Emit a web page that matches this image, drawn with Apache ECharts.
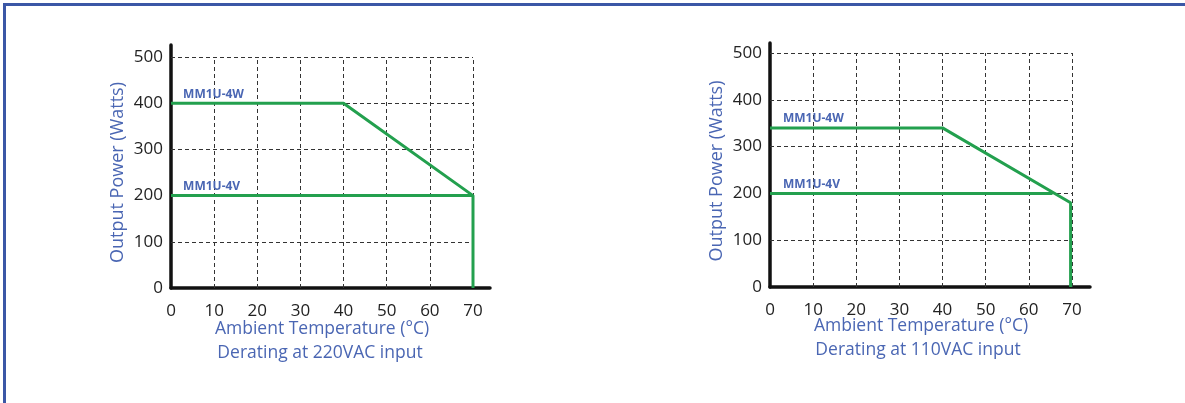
<!DOCTYPE html>
<html>
<head>
<meta charset="utf-8">
<script src="https://cdn.jsdelivr.net/npm/echarts@6/dist/echarts.min.js"></script>
<style>
html,body{margin:0;padding:0;background:#fff;}
#c{width:1185px;height:403px;}
</style>
</head>
<body>
<div id="c"></div>
<script>
// ---- data ----
var xTicks = [0, 10, 20, 30, 40, 50, 60, 70];
var yTicks = [0, 100, 200, 300, 400, 500];

var temp220_4W = [0, 40, 70, 70];
var power220_4W = [400, 400, 200, 0];
var temp220_4V = [0, 70];
var power220_4V = [200, 200];

var temp110_4W = [0, 40, 69.7, 69.7];
var power110_4W = [340, 340, 180, 0];
var temp110_4V = [0, 65.5];
var power110_4V = [200, 200];

var seriesNames = ['MM1U-4W', 'MM1U-4V'];
var xTitle = 'Ambient Temperature (°C)';
var yTitle = 'Output Power (Watts)';
var subTitles = ['Derating at 220VAC input', 'Derating at 110VAC input'];

// ---- helpers ----
var BLUE = '#4a66b3';
var GREEN = '#23a04e';
var FONT = 'Open Sans';

function pairs(xs, ys) { return xs.map(function (x, i) { return [x, ys[i]]; }); }

function gridLines() {
  var d = [];
  var xMax = xTicks[xTicks.length - 1], yMax = yTicks[yTicks.length - 1];
  xTicks.slice(1).forEach(function (x) { d.push([{ coord: [x, 0] }, { coord: [x, yMax] }]); });
  yTicks.slice(1).forEach(function (y) { d.push([{ coord: [0, y] }, { coord: [xMax, y] }]); });
  return d;
}

function makeX(idx, max) {
  return {
    type: 'value', gridIndex: idx, min: 0, max: max, interval: 10,
    axisLine: { show: true, onZero: false, lineStyle: { color: '#111', width: 3.5 } },
    axisTick: { show: false }, splitLine: { show: false },
    axisLabel: { showMaxLabel: false, margin: 15, color: '#222', fontSize: 17, fontFamily: FONT }
  };
}
function makeY(idx, max) {
  return {
    type: 'value', gridIndex: idx, min: 0, max: max, interval: 100,
    name: yTitle, nameLocation: 'middle', nameGap: 44,
    nameTextStyle: { color: BLUE, fontSize: 18, fontFamily: FONT, padding: [0, 12, 0, 0] },
    axisLine: { show: true, onZero: false, lineStyle: { color: '#111', width: 3.5 } },
    axisTick: { show: false }, splitLine: { show: false },
    axisLabel: { showMaxLabel: false, margin: 8, color: '#222', fontSize: 17, fontFamily: FONT }
  };
}
function labelPoint(x, y, text) {
  return {
    symbol: 'circle', symbolSize: 0, silent: true,
    itemStyle: { color: 'transparent' },
    data: [{ coord: [x, y], value: text }],
    label: {
      show: true, formatter: text, position: [0, -3], align: 'left', verticalAlign: 'bottom',
      color: BLUE, fontSize: 12, fontWeight: 'bold', fontFamily: FONT
    }
  };
}
function lineSeries(idx, xs, ys, name, lx) {
  return {
    type: 'line', name: name, xAxisIndex: idx, yAxisIndex: idx,
    data: pairs(xs, ys), symbol: 'none', silent: true, z: 5,
    lineStyle: { color: GREEN, width: 3 },
    markPoint: labelPoint(lx, ys[0], name)
  };
}
function gridSeries(idx) {
  return {
    type: 'line', xAxisIndex: idx, yAxisIndex: idx, data: [], silent: true, z: 1,
    markLine: {
      silent: true, symbol: 'none', label: { show: false },
      lineStyle: { color: '#333', width: 1, type: [4, 3] },
      data: gridLines()
    }
  };
}

var chart = echarts.init(document.getElementById('c'));
chart.setOption({
  animation: false,
  grid: [
    { left: 171, top: 45, width: 319, height: 243 },
    { left: 770, top: 43, width: 320, height: 244 }
  ],
  xAxis: [makeX(0, 73.94), makeX(1, 74.2)],
  yAxis: [makeY(0, 526), makeY(1, 521.4)],
  series: [
    gridSeries(0), gridSeries(1),
    lineSeries(0, temp220_4W, power220_4W, seriesNames[0], 2.8),
    lineSeries(0, temp220_4V, power220_4V, seriesNames[1], 2.8),
    lineSeries(1, temp110_4W, power110_4W, seriesNames[0], 3.0),
    lineSeries(1, temp110_4V, power110_4V, seriesNames[1], 3.0)
  ],
  graphic: [
    { type: 'rect', shape: { x: 3, y: 3, width: 1182, height: 3 }, style: { fill: '#3b57a6' }, silent: true },
    { type: 'rect', shape: { x: 3, y: 3, width: 3, height: 400 }, style: { fill: '#3b57a6' }, silent: true },
    { type: 'text', x: 322, y: 329, style: { text: xTitle, fill: BLUE, font: '17.5px "Open Sans"', textAlign: 'center', textVerticalAlign: 'middle' } },
    { type: 'text', x: 320, y: 353, style: { text: subTitles[0], fill: BLUE, font: '17.5px "Open Sans"', textAlign: 'center', textVerticalAlign: 'middle' } },
    { type: 'text', x: 921, y: 326, style: { text: xTitle, fill: BLUE, font: '17.5px "Open Sans"', textAlign: 'center', textVerticalAlign: 'middle' } },
    { type: 'text', x: 918, y: 350, style: { text: subTitles[1], fill: BLUE, font: '17.5px "Open Sans"', textAlign: 'center', textVerticalAlign: 'middle' } }
  ]
});
</script>
</body>
</html>
